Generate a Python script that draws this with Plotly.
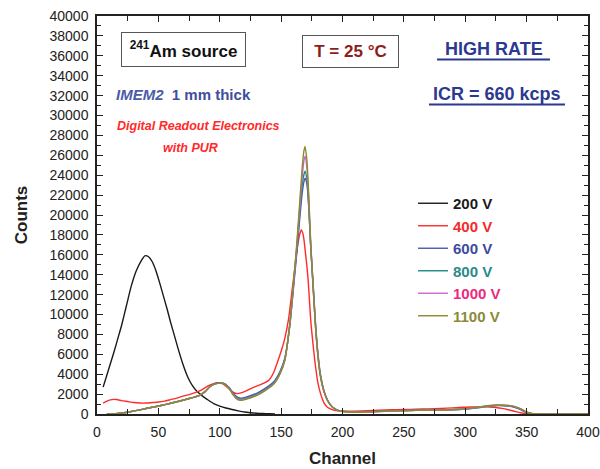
import plotly.graph_objects as go

# ---------------- data ----------------
ch_200 = [5, 8, 11, 14, 17, 20, 24, 28, 32, 36, 39, 42, 45, 48, 51, 54, 57, 60, 63, 66,
          70, 74, 78, 82, 86, 90, 95, 100, 105, 110, 115, 120, 125, 130, 135, 140, 145]
c_200 = [2700, 3900, 5100, 6300, 7600, 8900, 10900, 12900, 14400, 15400, 15900, 15800, 15300,
         14400, 13200, 11900, 10600, 9200, 7900, 6600, 5000, 3700, 2800, 2200, 1800, 1450,
         1050, 800, 600, 450, 320, 200, 130, 80, 50, 25, 0]

ch_400 = [5, 8, 12, 16, 20, 25, 30, 35, 40, 45, 50, 55, 60, 65, 70, 75, 80, 85, 90, 95,
          98, 102, 106, 110, 114, 118, 122, 126, 130, 135, 140, 144, 147, 150, 153, 156, 159,
          161, 163, 165, 166.5, 168, 170, 172, 174, 176, 178, 180, 182, 185, 188, 192, 196,
          200, 210, 220, 230, 240, 250, 260, 270, 280, 290, 300, 310, 315, 320, 325, 330,
          335, 340, 345, 350, 360, 380, 400]
c_400 = [1100, 1300, 1450, 1450, 1350, 1250, 1150, 1100, 1100, 1150, 1200, 1300, 1450, 1600,
         1800, 1950, 2150, 2400, 2800, 3050, 3150, 3050, 2700, 2250, 2050, 2150, 2350, 2600,
         2800, 3050, 3400, 4200, 5200, 6300, 7600, 9500, 12500, 14500, 16500, 18000, 18500,
         18000, 16000, 13500, 9600, 7000, 4800, 3100, 2100, 1100, 650, 420, 320, 280, 290,
         330, 380, 420, 450, 480, 520, 560, 620, 680, 720, 720, 700, 650, 560, 430, 280, 130,
         30, 0, 0, 0]

ch_main = [8, 15, 20, 27, 35, 45, 54, 60, 70, 76, 84, 88, 92, 96, 100, 104, 108, 111, 114, 117,
           122, 130, 137, 144, 149, 153, 157, 161, 163, 165, 167, 168.5, 169.5, 171, 172.5,
           174, 176, 178, 180, 182, 185, 188, 192, 197, 202, 210, 220, 230, 240, 250, 260,
           270, 280, 290, 300, 310, 315, 320, 325, 330, 335, 340, 345, 350, 355, 360, 380, 400]

c_600 = [0, 30, 100, 230, 420, 680, 900, 1080, 1380, 1580,
         1900, 2250, 2750, 3050, 3150, 3060, 2620, 2080, 1720, 1600,
         1720, 2080, 2580, 3250, 4250, 5600, 8800, 13900, 16500, 19400,
         22000, 23300, 23700, 23100, 20800, 17100, 13200, 9200, 6100, 4000,
         2300, 1360, 680, 340, 250, 200, 220, 270, 320, 350,
         380, 400, 420, 450, 500, 620, 720, 800, 840, 840,
         800, 680, 440, 140, 20, 0, 0, 0]
c_800 = [0, 30, 100, 230, 420, 680, 900, 1080, 1380, 1580,
         1900, 2250, 2750, 3020, 3120, 3020, 2560, 2000, 1620, 1500,
         1620, 1980, 2480, 3150, 4150, 5500, 8900, 14200, 16900, 20000,
         22800, 24000, 24400, 23600, 21000, 17000, 12900, 8900, 5900, 3900,
         2250, 1330, 670, 330, 240, 190, 210, 260, 310, 340,
         370, 390, 410, 440, 500, 640, 740, 820, 860, 860,
         830, 720, 480, 160, 30, 0, 0, 0]
c_1000 = [0, 30, 100, 230, 420, 680, 900, 1080, 1380, 1580,
          1900, 2250, 2750, 3000, 3100, 3000, 2520, 1950, 1550, 1420,
          1550, 1900, 2400, 3050, 4050, 5400, 8900, 14300, 17200, 20500,
          23600, 25400, 25900, 24700, 21500, 17200, 12900, 8800, 5800, 3800,
          2200, 1300, 650, 320, 230, 180, 200, 250, 300, 330,
          360, 380, 400, 430, 510, 660, 760, 840, 880, 880,
          850, 740, 520, 180, 30, 0, 0, 0]
c_1100 = [0, 30, 100, 230, 420, 680, 900, 1080, 1380, 1580,
          1900, 2250, 2750, 3000, 3100, 3000, 2500, 1900, 1500, 1380,
          1500, 1850, 2350, 3000, 4000, 5400, 9000, 14500, 17500, 21000,
          24500, 26400, 26900, 25500, 22000, 17500, 13000, 8800, 5800, 3800,
          2200, 1300, 650, 320, 230, 180, 200, 250, 300, 330,
          360, 380, 400, 430, 520, 680, 780, 860, 900, 900,
          870, 770, 550, 200, 40, 0, 0, 0]

series_names = ["200 V", "400 V", "600 V", "800 V", "1000 V", "1100 V"]
line_colors = ["#1a1a1a", "#ff2a2a", "#4a5aae", "#1e8a84", "#cc66cc", "#8a8a2e"]
text_colors = ["#1a1a1a", "#f52a2a", "#3c4aa0", "#2a8a88", "#ec2a80", "#8c8a3a"]

x_range = [0, 400]
y_range = [0, 40000]

# ---------------- figure ----------------
W, H = 600, 469
ML, MR, MT, MB = 97, 12, 16, 55
PW, PH = W - ML - MR, H - MT - MB


def px(x):
    return (x - ML) / PW


def py(y):
    return (H - MB - y) / PH


fig = go.Figure()
xs = [ch_200, ch_400, ch_main, ch_main, ch_main, ch_main]
ys = [c_200, c_400, c_600, c_800, c_1000, c_1100]
for name, xv, yv, lc, tc in zip(series_names, xs, ys, line_colors, text_colors):
    fig.add_trace(go.Scatter(
        x=xv, y=yv, mode="lines", name=f"<span style='color:{tc}'>{name}</span>",
        line=dict(color=lc, width=1.4, shape="spline", smoothing=0.6),
    ))

font_base = "Liberation Sans, Arial, sans-serif"

annotations = [
    dict(x=px(183.2), y=py(49.2), text="<b><sup>241</sup>Am source</b>",
         font=dict(size=17, color="#111"), width=121, height=31,
         bordercolor="#555", borderwidth=1, borderpad=1),
    dict(x=px(350.2), y=py(51.5), text="<b>T = 25 °C</b>",
         font=dict(size=17, color="#8c1d1d"), width=93, height=29,
         bordercolor="#555", borderwidth=1, borderpad=1),
    dict(x=px(494), y=py(48.7), text="<b>HIGH RATE</b>",
         font=dict(size=18, color="#2b3990")),
    dict(x=px(496.7), y=py(94), text="<b>ICR = 660 kcps</b>",
         font=dict(size=18, color="#2b3990")),
    dict(x=px(114), y=py(94.3), xanchor="left",
         text="<b><i>IMEM2</i>  <span style='color:#3e4e9e'>1 mm thick</span></b>",
         font=dict(size=15, color="#4b5ba6")),
    dict(x=px(198.3), y=py(126.3), text="<b><i>Digital Readout Electronics</i></b>",
         font=dict(size=12.5, color="#ff2a2a")),
    dict(x=px(190.5), y=py(147.7), text="<b><i>with PUR</i></b>",
         font=dict(size=12.5, color="#ff2a2a")),
]
for a in annotations:
    a.update(xref="paper", yref="paper", showarrow=False)
    a.setdefault("xanchor", "center")
    a["yanchor"] = "middle"

shapes = [
    dict(type="line", xref="paper", yref="paper", x0=px(437), x1=px(550),
         y0=py(59.5), y1=py(59.5), line=dict(color="#2b3990", width=2)),
    dict(type="line", xref="paper", yref="paper", x0=px(429), x1=px(565),
         y0=py(104.5), y1=py(104.5), line=dict(color="#2b3990", width=2)),
]

fig.update_layout(
    width=W, height=H,
    margin=dict(l=ML, r=MR, t=MT, b=MB, autoexpand=False),
    paper_bgcolor="white", plot_bgcolor="white",
    font=dict(family=font_base, color="#222"),
    annotations=annotations, shapes=shapes,
    showlegend=True,
    legend=dict(x=px(413), y=py(187), xanchor="left", yanchor="top",
                bgcolor="rgba(0,0,0,0)", borderwidth=0,
                font=dict(size=15, family=font_base, weight="bold"),
                tracegroupgap=0, itemwidth=30),
)

fig.update_xaxes(
    range=x_range, dtick=50, tick0=0, ticks="inside", ticklen=6, tickwidth=1.2,
    tickcolor="#222", showline=True, linecolor="#222", linewidth=1.5, mirror="ticks",
    showgrid=False, zeroline=False, tickfont=dict(size=14, color="#222"),
    minor=dict(dtick=25, ticks="inside", ticklen=5, tickcolor="#222", tickwidth=1.2, showgrid=False),
    title=dict(text="<b>Channel</b>", font=dict(size=17, color="#222"), standoff=14),
    ticklabelstandoff=4, automargin=False, tickformat="d",
)
fig.update_yaxes(
    range=y_range, dtick=2000, tick0=0, ticks="inside", ticklen=6, tickwidth=1.2,
    tickcolor="#222", showline=True, linecolor="#222", linewidth=1.5, mirror="ticks",
    showgrid=False, zeroline=False, tickfont=dict(size=14, color="#222"),
    minor=dict(dtick=1000, ticks="inside", ticklen=4, tickcolor="#222", tickwidth=1.2, showgrid=False),
    title=dict(text="<b>Counts</b>", font=dict(size=17, color="#222"), standoff=18),
    ticklabelstandoff=4, automargin=False, tickformat="d",
)

fig.write_html("out.html")
